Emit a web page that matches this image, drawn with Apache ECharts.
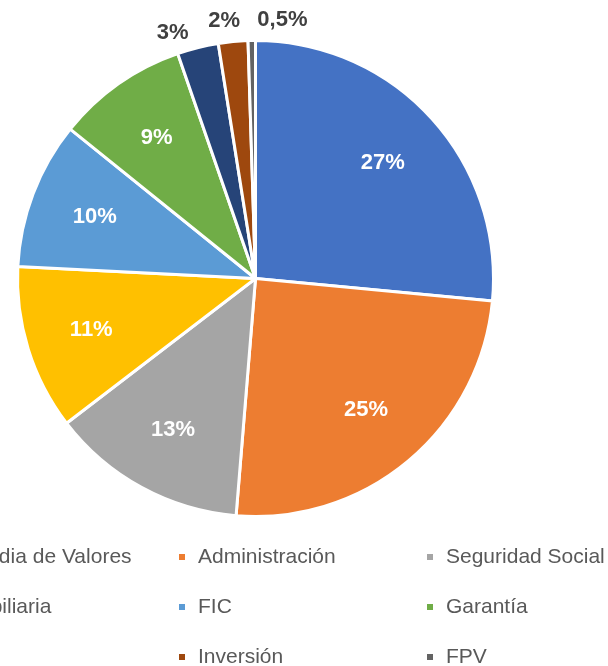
<!DOCTYPE html>
<html>
<head>
<meta charset="utf-8">
<script src="https://cdn.jsdelivr.net/npm/echarts@6/dist/echarts.min.js"></script>
<style>html,body{margin:0;padding:0;background:#fff}#c{width:608px;height:666px}</style>
</head>
<body>
<div id="c"></div>
<script>
const categories = ["Custodia de Valores", "Administración", "Seguridad Social", "Inmobiliaria", "FIC", "Garantía", "Otros", "Inversión", "FPV"];
const shares = [26.5, 24.8, 13.3, 11.2, 10.0, 8.9, 2.8, 2.0, 0.5];
const colors = ["#4472C4", "#ED7D31", "#A5A5A5", "#FFC000", "#5B9BD5", "#70AD47", "#264478", "#9E480E", "#636363"];

function fmt(v) {
  return v < 1 ? v.toFixed(1).replace('.', ',') + '%' : Math.round(v) + '%';
}
const center = [255.5, 278.5];
const R = 238;
// small nudges that keep the crowded outside labels apart (as the original spreads them)
const outsideNudge = { 6: [-20, 6], 7: [-7, 0], 8: [31, 0] };

const mainData = categories.map((n, i) => ({ name: n, value: shares[i] }));
const innerLabelData = categories.map((n, i) => ({ name: n, value: shares[i], label: { show: shares[i] >= 5 } }));
const outerLabelData = categories.map((n, i) => ({ name: n, value: shares[i], label: { show: shares[i] < 5 } }));

const hidden = {
  type: 'pie', center: center, silent: true, startAngle: 90, clockwise: true,
  itemStyle: { color: 'rgba(0,0,0,0)', borderWidth: 0 },
  labelLine: { show: false }, emphasis: { disabled: true }, animation: false
};

const legendBase = {
  orient: 'vertical', top: 545, height: 140, padding: 0, itemWidth: 8, itemHeight: 8, icon: 'rect', itemGap: 26,
  selectedMode: false,
  textStyle: { fontFamily: 'Liberation Sans', fontSize: 21, color: '#595959', lineHeight: 24, padding: [0, 0, 0, 7] }
};

const chart = echarts.init(document.getElementById('c'));
chart.setOption({
  animation: false,
  color: colors,
  legend: [
    Object.assign({}, legendBase, { left: -77, data: [categories[0], categories[3], categories[6]] }),
    Object.assign({}, legendBase, { left: 177, data: [categories[1], categories[4], categories[7]] }),
    Object.assign({}, legendBase, { left: 425, data: [categories[2], categories[5], categories[8]] })
  ],
  series: [
    {
      type: 'pie', center: center, radius: [0, R], startAngle: 90, clockwise: true,
      data: mainData, label: { show: false }, labelLine: { show: false },
      itemStyle: { borderColor: '#fff', borderWidth: 3 }, emphasis: { disabled: true }, animation: false
    },
    Object.assign({}, hidden, {
      radius: [100, R], data: innerLabelData,
      label: { position: 'inside', formatter: p => fmt(p.value), color: '#fff', fontWeight: 'bold', fontSize: 22, fontFamily: 'Liberation Sans' }
    }),
    Object.assign({}, hidden, {
      radius: [244, 268], data: outerLabelData,
      label: { position: 'inside', formatter: p => fmt(p.value), color: '#404040', fontWeight: 'bold', fontSize: 22, fontFamily: 'Liberation Sans' },
      labelLayout: p => {
        const n = outsideNudge[p.dataIndex];
        return n ? { dx: n[0], dy: n[1] } : {};
      }
    })
  ]
});
</script>
</body>
</html>
